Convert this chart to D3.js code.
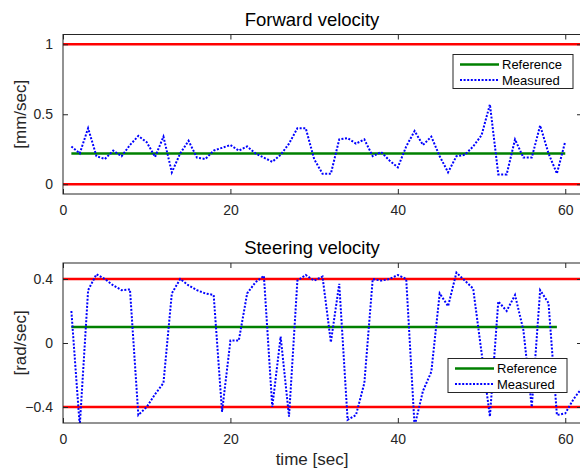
<!DOCTYPE html>
<html>
  <head>
    <meta charset="utf-8">
    <title>Velocities</title>
    <style>
      body { margin: 0; background: #fff; }
      svg { display: block; font-family: "Liberation Sans", Arial, sans-serif; }
      .tick text { fill: #262626; font-size: 14px; }
      .tick line { stroke: #262626; }
    </style>
  </head>
  <body>
    <svg id="chart" width="580" height="468"></svg>
    <script src="https://d3js.org/d3.v7.min.js"></script>
    <script>
      // sample times (sec)
      var timeFwd = d3.range(1, 61);
      var timeSteer = d3.range(1, 63);

      // forward velocity [mm/sec]
      var fwdMeasured = [0.27, 0.22, 0.40, 0.20, 0.18, 0.24, 0.20, 0.28, 0.345, 0.30,
                         0.195, 0.34, 0.085, 0.22, 0.31, 0.19, 0.18, 0.24, 0.26, 0.28,
                         0.24, 0.27, 0.22, 0.19, 0.16, 0.21, 0.29, 0.40, 0.40, 0.18,
                         0.075, 0.075, 0.32, 0.33, 0.29, 0.32, 0.20, 0.23, 0.17, 0.12,
                         0.27, 0.38, 0.28, 0.34, 0.20, 0.085, 0.20, 0.21, 0.27, 0.35,
                         0.57, 0.07, 0.07, 0.32, 0.19, 0.19, 0.42, 0.22, 0.076, 0.305];
      var fwdReference = 0.22;
      var fwdLimits = [0, 1];

      // steering velocity [rad/sec]
      var steerMeasured = [0.20, -0.52, 0.33, 0.43, 0.40, 0.36, 0.33, 0.335, -0.45, -0.40,
                           -0.32, -0.25, 0.31, 0.40, 0.36, 0.33, 0.31, 0.30, -0.43, 0.015,
                           0.015, 0.31, 0.38, 0.42, -0.40, 0.04, -0.46, 0.39, 0.425, 0.39,
                           0.415, 0.005, 0.37, -0.48, -0.45, -0.25, 0.40, 0.39, 0.40, 0.425,
                           0.40, -0.52, -0.30, -0.18, 0.31, 0.23, 0.44, 0.39, 0.34, -0.06,
                           -0.46, 0.26, 0.20, 0.30, 0.08, -0.40, 0.33, 0.25, -0.45, -0.44,
                           -0.35, -0.28];
      var steerReference = 0.1;
      var steerLimits = [-0.4, 0.4];

      var xTicks = [0, 20, 40, 60];
      var fwdTicks = [0, 0.5, 1];
      var steerTicks = [-0.4, 0, 0.4];
      var legendLabels = ["Reference", "Measured"];

      var svg = d3.select("#chart");
      var axisColor = "#262626";

      function drawPanel(opt) {
        var x = d3.scaleLinear().domain([0, 62]).range([63, 582]);
        var y = d3.scaleLinear().domain(opt.yDomain).range([opt.bottom, opt.top]);
        var g = svg.append("g");
        var clipId = "clip-" + opt.id;

        g.append("clipPath").attr("id", clipId)
          .append("rect")
          .attr("x", x.range()[0]).attr("y", opt.top)
          .attr("width", x.range()[1] - x.range()[0])
          .attr("height", opt.bottom - opt.top);

        var plot = g.append("g").attr("clip-path", "url(#" + clipId + ")");

        // limit lines
        opt.limits.forEach(function (v) {
          plot.append("line")
            .attr("x1", x(0)).attr("x2", x(62))
            .attr("y1", y(v)).attr("y2", y(v))
            .attr("stroke", "#ff0000").attr("stroke-width", 2.5);
        });

        // reference
        plot.append("line")
          .attr("x1", x(opt.refRange[0])).attr("x2", x(opt.refRange[1]))
          .attr("y1", y(opt.reference)).attr("y2", y(opt.reference))
          .attr("stroke", "#008000").attr("stroke-width", 2.5);

        // measured
        var line = d3.line()
          .x(function (d, i) { return x(opt.time[i]); })
          .y(function (d) { return y(d); });
        plot.append("path")
          .datum(opt.measured)
          .attr("d", line)
          .attr("fill", "none")
          .attr("stroke", "#0000ff")
          .attr("stroke-width", 2)
          .attr("stroke-dasharray", "2,1.6");

        // axes, ticks pointing inwards on all four sides
        g.append("g")
          .attr("transform", "translate(0," + opt.bottom + ")")
          .call(d3.axisBottom(x).tickValues(xTicks).tickSizeInner(-5).tickSizeOuter(0).tickPadding(11))
          .call(function (a) { a.select(".domain").remove(); });
        g.append("g")
          .attr("transform", "translate(0," + opt.top + ")")
          .call(d3.axisTop(x).tickValues(xTicks).tickSizeInner(-5).tickSizeOuter(0).tickFormat(""))
          .call(function (a) { a.select(".domain").remove(); });
        g.append("g")
          .attr("transform", "translate(63,0)")
          .call(d3.axisLeft(y).tickValues(opt.yTicks).tickSizeInner(-5).tickSizeOuter(0).tickPadding(10)
            .tickFormat(d3.format("")))
          .call(function (a) { a.select(".domain").remove(); });
        g.append("g")
          .attr("transform", "translate(582,0)")
          .call(d3.axisRight(y).tickValues(opt.yTicks).tickSizeInner(-5).tickSizeOuter(0).tickFormat(""))
          .call(function (a) { a.select(".domain").remove(); });

        g.append("rect")
          .attr("x", 63).attr("y", opt.top)
          .attr("width", 582 - 63).attr("height", opt.bottom - opt.top)
          .attr("fill", "none").attr("stroke", axisColor).attr("stroke-width", 1);

        g.append("text")
          .attr("x", 312).attr("y", opt.top - 9)
          .attr("text-anchor", "middle")
          .attr("font-size", 18.5)
          .attr("fill", "#000")
          .text(opt.title);

        g.append("text")
          .attr("transform", "translate(26," + (opt.top + opt.bottom) / 2 + ") rotate(-90)")
          .attr("text-anchor", "middle")
          .attr("font-size", 17)
          .attr("fill", axisColor)
          .text(opt.ylabel);

        // legend
        var lg = g.append("g").attr("transform", "translate(" + opt.legend[0] + "," + opt.legend[1] + ")");
        lg.append("rect")
          .attr("width", opt.legend[2]).attr("height", 34)
          .attr("fill", "#fff").attr("stroke", axisColor).attr("stroke-width", 1);
        legendLabels.forEach(function (lab, i) {
          var ly = 10 + i * 15.5;
          lg.append("line")
            .attr("x1", 7).attr("x2", 46).attr("y1", ly).attr("y2", ly)
            .attr("stroke", i === 0 ? "#008000" : "#0000ff")
            .attr("stroke-width", i === 0 ? 2.5 : 2)
            .attr("stroke-dasharray", i === 0 ? null : "2,1.6");
          lg.append("text")
            .attr("x", 49).attr("y", ly + 4.5)
            .attr("font-size", 13)
            .attr("fill", "#000")
            .text(lab);
        });
      }

      drawPanel({
        id: "fwd", top: 34.5, bottom: 194, yDomain: [-0.07, 1.07],
        time: timeFwd, measured: fwdMeasured, reference: fwdReference, refRange: [1, 60],
        limits: fwdLimits, yTicks: fwdTicks,
        title: "Forward velocity", ylabel: "[mm/sec]", legend: [453, 54.5, 120]
      });

      drawPanel({
        id: "steer", top: 263, bottom: 423, yDomain: [-0.5, 0.5],
        time: timeSteer, measured: steerMeasured, reference: steerReference, refRange: [1, 59],
        limits: steerLimits, yTicks: steerTicks,
        title: "Steering velocity", ylabel: "[rad/sec]", legend: [448, 358.5, 119]
      });

      svg.append("text")
        .attr("x", 312).attr("y", 465)
        .attr("text-anchor", "middle")
        .attr("font-size", 17)
        .attr("fill", axisColor)
        .text("time [sec]");
    </script>
  </body>
</html>
